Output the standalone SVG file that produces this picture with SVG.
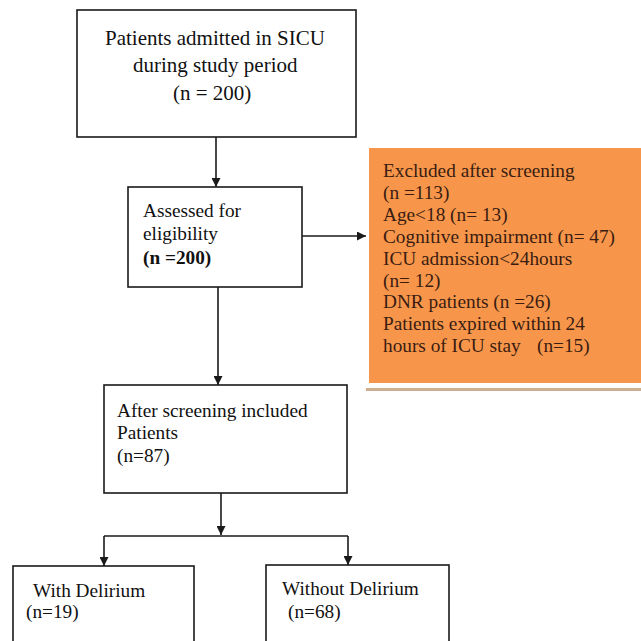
<svg xmlns="http://www.w3.org/2000/svg" width="641" height="641" viewBox="0 0 641 641">
<style>
.box{fill:#ffffff;stroke:#1a1a1a;stroke-width:1.6}
.t{font-family:"Liberation Serif","Times New Roman",serif;font-size:19.3px;fill:#111111}
.big{font-size:21px}
.o{font-family:"Liberation Serif","Times New Roman",serif;font-size:19.3px;fill:#3a1c12}
.c{fill:none;stroke:#1a1a1a;stroke-width:1.6}
</style>
<defs>
<marker id="ah" viewBox="0 0 10 10" refX="10" refY="5" markerWidth="9" markerHeight="9" markerUnits="userSpaceOnUse" orient="auto">
<path d="M0,0 L10,5 L0,10 Z" fill="#1a1a1a"/>
</marker>
</defs>
<rect width="641" height="641" fill="#ffffff"/>
<g id="connectors">
<path class="c" d="M216,137 V187" marker-end="url(#ah)"/>
<path class="c" d="M302,236 H366" marker-end="url(#ah)"/>
<path class="c" d="M218,287 V385" marker-end="url(#ah)"/>
<path class="c" d="M221,493 V535" marker-end="url(#ah)"/>
<path class="c" d="M104,536 H348"/>
<path class="c" d="M104,536 V566" marker-end="url(#ah)"/>
<path class="c" d="M348,536 V565" marker-end="url(#ah)"/>
</g>
<g id="n1">
<rect class="box" x="77" y="10" width="279" height="127"/>
<text class="t big" x="105" y="45">Patients admitted in SICU</text>
<text class="t big" x="133" y="72">during study period</text>
<text class="t big" x="173" y="100">(n = 200)</text>
</g>
<g id="n2">
<rect class="box" x="128" y="187" width="174" height="100"/>
<text class="t" x="143" y="217">Assessed for</text>
<text class="t" x="143" y="240">eligibility</text>
<text class="t" x="143" y="264" font-weight="bold">(n =200)</text>
</g>
<g id="n3">
<rect x="366" y="388" width="275" height="3" fill="#cfae92"/>
<rect x="369" y="148" width="272" height="235" fill="#f7964a"/>
<text class="o" x="383" y="177">Excluded after screening</text>
<text class="o" x="383" y="198.9">(n =113)</text>
<text class="o" x="383" y="220.8">Age&lt;18 (n= 13)</text>
<text class="o" x="383" y="242.7">Cognitive impairment (n= 47)</text>
<text class="o" x="383" y="264.6">ICU admission&lt;24hours</text>
<text class="o" x="383" y="286.5">(n= 12)</text>
<text class="o" x="383" y="308.4">DNR patients (n =26)</text>
<text class="o" x="383" y="330.3">Patients expired within 24</text>
<text class="o" x="383" y="352.2">hours of ICU stay<tspan x="537">(n=15)</tspan></text>
</g>
<g id="n4">
<rect class="box" x="104" y="385" width="243" height="108"/>
<text class="t" x="117" y="417">After screening included</text>
<text class="t" x="117" y="439">Patients</text>
<text class="t" x="117" y="462">(n=87)</text>
</g>
<g id="n5">
<rect class="box" x="13" y="566" width="181" height="100"/>
<text class="t" x="33" y="597">With Delirium</text>
<text class="t" x="26" y="618">(n=19)</text>
</g>
<g id="n6">
<rect class="box" x="266" y="565" width="183" height="100"/>
<text class="t" x="282" y="595">Without Delirium</text>
<text class="t" x="288" y="618">(n=68)</text>
</g>
</svg>
